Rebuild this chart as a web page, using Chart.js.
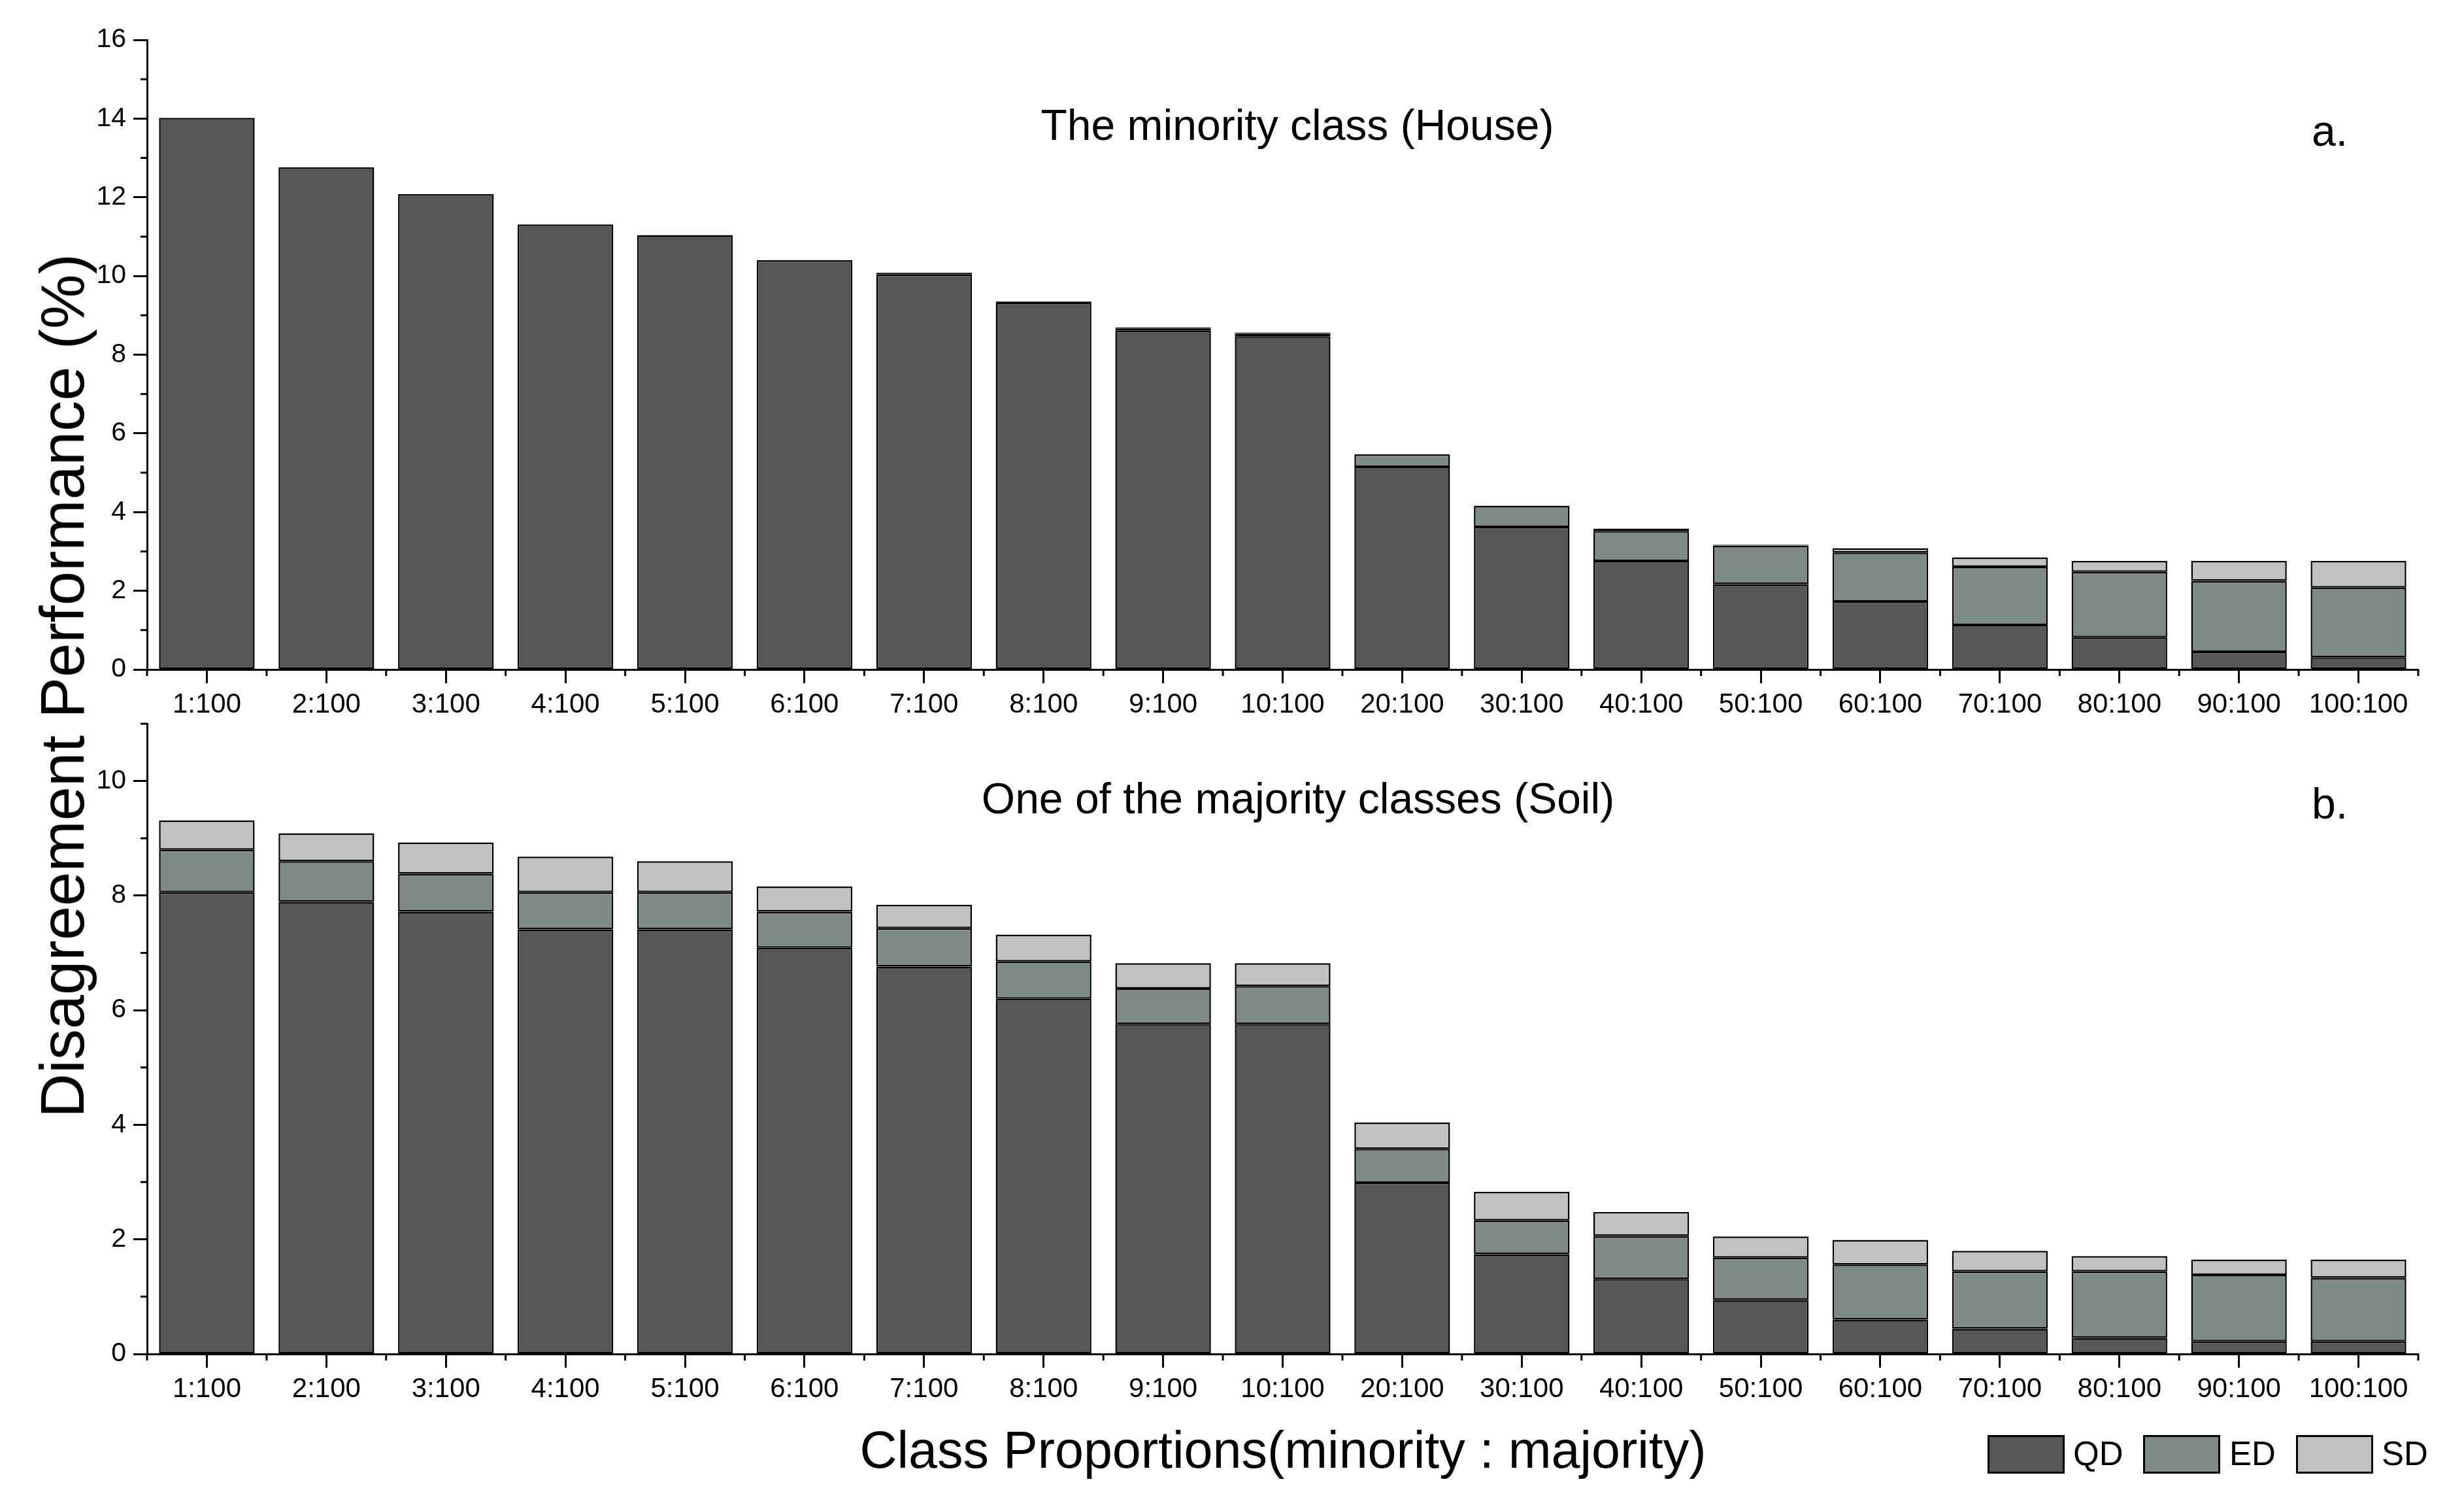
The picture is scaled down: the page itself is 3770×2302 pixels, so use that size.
<!DOCTYPE html>
<html>
<head>
<meta charset="utf-8">
<script src="https://cdn.jsdelivr.net/npm/chart.js@4.4.1/dist/chart.umd.min.js"></script>
<style>
  html, body { margin: 0; padding: 0; background: #fff; }
  body { width: 3770px; height: 2302px; position: relative; overflow: hidden;
         font-family: "Liberation Sans", Arial, sans-serif; color: #000; }
  canvas { position: absolute; left: 0; }
  .txt { position: absolute; line-height: 1; white-space: nowrap; }
  .box { position: absolute; width: 112px; height: 53px; border: 3px solid #000; }
</style>
</head>
<body>
<canvas id="houseChart" width="3770" height="1100" style="top:0"></canvas>
<canvas id="soilChart" width="3770" height="1262" style="top:1040px"></canvas>

<div class="txt" style="font-size:66px; left:1985px; top:158px; transform:translateX(-50%)">The minority class (House)</div>
<div class="txt" style="font-size:66px; left:3537px; top:167px">a.</div>
<div class="txt" style="font-size:66px; left:1986px; top:1188px; transform:translateX(-50%)">One of the majority classes (Soil)</div>
<div class="txt" style="font-size:66px; left:3537px; top:1196px">b.</div>

<div class="txt" style="font-size:94px; left:96px; top:1049px; transform:translate(-50%,-50%) rotate(-90deg)">Disagreement Performance (%)</div>
<div class="txt" style="font-size:79px; left:1963px; top:2178px; transform:translateX(-50%)">Class Proportions(minority : majority)</div>

<div class="box" style="left:3041px; top:2195px; background:#565654"></div>
<div class="txt" style="font-size:51px; left:3172px; top:2198px">QD</div>
<div class="box" style="left:3279px; top:2195px; background:#7d8a86"></div>
<div class="txt" style="font-size:51px; left:3411px; top:2198px">ED</div>
<div class="box" style="left:3513px; top:2195px; background:#c1c1c1"></div>
<div class="txt" style="font-size:51px; left:3644px; top:2198px">SD</div>

<script>
const categories = ["1:100", "2:100", "3:100", "4:100", "5:100", "6:100", "7:100", "8:100", "9:100", "10:100",
                    "20:100", "30:100", "40:100", "50:100", "60:100", "70:100", "80:100", "90:100", "100:100"];

// panel a: the minority class (House)
const houseQD = [14.02, 12.76, 12.08, 11.31, 11.04, 10.40, 10.04, 9.32, 8.61, 8.47, 5.15, 3.62, 2.76, 2.17, 1.73, 1.13, 0.82, 0.45, 0.31];
const houseED = [0, 0, 0, 0, 0, 0, 0.04, 0.03, 0.05, 0.06, 0.32, 0.54, 0.76, 0.98, 1.24, 1.48, 1.66, 1.80, 1.77];
const houseSD = [0, 0, 0, 0, 0, 0, 0.01, 0.01, 0.03, 0.03, 0, 0, 0.06, 0.02, 0.11, 0.24, 0.28, 0.51, 0.68];

// panel b: one of the majority classes (Soil)
const soilQD = [8.06, 7.89, 7.72, 7.41, 7.41, 7.09, 6.76, 6.20, 5.76, 5.76, 2.99, 1.74, 1.31, 0.94, 0.60, 0.44, 0.28, 0.22, 0.22];
const soilED = [0.74, 0.71, 0.66, 0.65, 0.65, 0.63, 0.67, 0.65, 0.62, 0.66, 0.59, 0.59, 0.75, 0.74, 0.96, 1.00, 1.16, 1.16, 1.11];
const soilSD = [0.51, 0.49, 0.55, 0.62, 0.54, 0.44, 0.41, 0.47, 0.44, 0.40, 0.46, 0.50, 0.42, 0.37, 0.43, 0.36, 0.27, 0.27, 0.32];

const seriesNames = ["QD", "ED", "SD"];
const seriesColors = ["#565654", "#7d8a86", "#c1c1c1"];

Chart.defaults.font.family = '"Liberation Sans", Arial, sans-serif';
Chart.defaults.color = "#000";

/* short ticks: odd y values and category boundaries */
const minorTicks = {
  id: "minorTicks",
  afterDraw(chart) {
    const ctx = chart.ctx, x = chart.scales.x, y = chart.scales.y;
    ctx.save();
    ctx.strokeStyle = "#000";
    ctx.lineWidth = 3;
    ctx.beginPath();
    y.ticks.forEach(t => {
      if (t.value % 2 !== 0) {
        const py = y.getPixelForValue(t.value);
        ctx.moveTo(x.left - 10, py);
        ctx.lineTo(x.left, py);
      }
    });
    for (let i = 0; i <= categories.length; i++) {
      const px = x.getPixelForValue(i - 0.5);
      ctx.moveTo(px, y.bottom);
      ctx.lineTo(px, y.bottom + 10);
    }
    ctx.stroke();
    ctx.restore();
  }
};

function makeChart(id, series, yMax, padTop, xHeight) {
  return new Chart(document.getElementById(id), {
    type: "bar",
    data: {
      labels: categories,
      datasets: series.map((d, i) => ({
        label: seriesNames[i],
        data: d,
        backgroundColor: seriesColors[i],
        borderColor: "#000",
        borderWidth: 2.5,
        borderSkipped: false,
        categoryPercentage: 1,
        barPercentage: 0.8
      }))
    },
    options: {
      responsive: false,
      animation: false,
      devicePixelRatio: 1,
      layout: { padding: { top: padTop, right: 70, left: 0, bottom: 0 } },
      plugins: { legend: { display: false }, tooltip: { enabled: false } },
      scales: {
        x: {
          stacked: true,
          afterFit: s => { s.height = xHeight; },
          grid: { drawOnChartArea: false, offset: false, tickLength: 21, tickWidth: 3, tickColor: "#000" },
          border: { color: "#000", width: 3 },
          ticks: { font: { size: 42 }, padding: 8, maxRotation: 0, autoSkip: false }
        },
        y: {
          stacked: true,
          min: 0,
          max: yMax,
          afterFit: s => { s.width = 225; },
          grid: {
            drawOnChartArea: false, tickLength: 21, tickWidth: 3,
            tickColor: c => (c.tick.value % 2 === 0 ? "#000" : "rgba(0,0,0,0)")
          },
          border: { color: "#000", width: 3 },
          ticks: {
            stepSize: 1, autoSkip: false, font: { size: 41 }, padding: 11,
            callback: v => (v % 2 === 0 ? v : "")
          }
        }
      }
    },
    plugins: [minorTicks]
  });
}

makeChart("houseChart", [houseQD, houseED, houseSD], 16, 61, 76);
makeChart("soilChart", [soilQD, soilED, soilSD], 11, 67, 231);
</script>
</body>
</html>
